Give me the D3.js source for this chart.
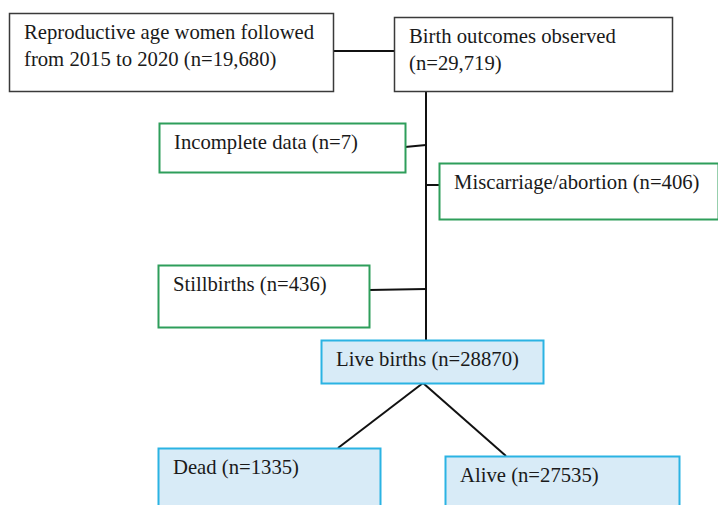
<!DOCTYPE html>
<html>
<head>
<meta charset="utf-8">
<script src="https://cdn.jsdelivr.net/npm/d3@7"></script>
<style>
  body { margin: 0; background: #fff; }
  svg { display: block; }
  .lbl { font-family: "Liberation Serif", Tinos, "Times New Roman", Times, "DejaVu Serif", serif; font-size: 20.7px; }
</style>
</head>
<body>
<div id="flow"></div>
<script>
// flowchart content
const nodeIds = ["women", "births", "incomplete", "miscarriage", "stillbirths", "live", "dead", "alive"];
const nodeLabels = [
    ["Reproductive age women followed", "from 2015 to 2020 (n={n})"],
    ["Birth outcomes observed", "(n={n})"],
    ["Incomplete data (n={n})"],
    ["Miscarriage/abortion (n={n})"],
    ["Stillbirths (n={n})"],
    ["Live births (n={n})"],
    ["Dead (n={n})"],
    ["Alive (n={n})"]
];
const nodeCounts = [19680, 29719, 7, 406, 436, 28870, 1335, 27535];
const commaCounts = [true, true, false, false, false, false, false, false];
const nodeKind = ["plain", "plain", "excluded", "excluded", "excluded", "outcome", "outcome", "outcome"];

// layout: box left/top/width/height in pixels
const layout = {
    women:       [9, 13, 324, 78],
    births:      [394, 17, 278, 74],
    incomplete:  [159, 123, 246, 49],
    miscarriage: [439, 163, 279, 56],
    stillbirths: [158, 265, 211, 62],
    live:        [321, 340, 222, 43],
    dead:        [158, 448, 222, 62],
    alive:       [445, 456, 234, 54]
};

const styles = {
    plain:    {stroke: "#3a3a3a", fill: "#ffffff"},
    excluded: {stroke: "#2e9e5b", fill: "#ffffff"},
    outcome:  {stroke: "#2bb3e3", fill: "#d8ebf7"}
};

const nodes = nodeIds.map((id, i) => ({
    id: id,
    kind: nodeKind[i],
    lines: nodeLabels[i].map(s => s.replace("{n}", commaCounts[i] ? d3.format(",")(nodeCounts[i]) : nodeCounts[i])),
    box: layout[id]
}));
const byId = Object.fromEntries(nodes.map(d => [d.id, d]));

const trunkX = 426;

// connector lines [x1, y1, x2, y2]
const links = [
    [byId.women.box[0] + byId.women.box[2], 51, byId.births.box[0], 51],
    [trunkX, byId.births.box[1] + byId.births.box[3], trunkX, byId.live.box[1]],
    [byId.incomplete.box[0] + byId.incomplete.box[2], 147, trunkX, 145],
    [trunkX, 185, byId.miscarriage.box[0], 185],
    [byId.stillbirths.box[0] + byId.stillbirths.box[2], 290, trunkX, 289],
    [423, byId.live.box[1] + byId.live.box[3], 338, byId.dead.box[1]],
    [423, byId.live.box[1] + byId.live.box[3], 506, byId.alive.box[1]]
];

const svg = d3.select("#flow")
    .append("svg")
    .attr("width", 718)
    .attr("height", 505);

svg.append("g")
    .selectAll("line")
    .data(links)
    .join("line")
    .attr("x1", d => d[0])
    .attr("y1", d => d[1])
    .attr("x2", d => d[2])
    .attr("y2", d => d[3])
    .attr("stroke", "#111")
    .attr("stroke-width", 2);

const g = svg.append("g")
    .selectAll("g")
    .data(nodes)
    .join("g")
    .attr("transform", d => `translate(${d.box[0]},${d.box[1]})`);

g.append("rect")
    .attr("x", 0.5)
    .attr("y", 0.5)
    .attr("width", d => d.box[2])
    .attr("height", d => d.box[3])
    .attr("fill", d => styles[d.kind].fill)
    .attr("stroke", d => styles[d.kind].stroke)
    .attr("stroke-width", d => d.kind == "plain" ? 1.5 : 2);

g.append("text")
    .attr("class", "lbl")
    .attr("fill", "#1a1a1a")
    .selectAll("tspan")
    .data(d => d.lines)
    .join("tspan")
    .attr("x", 15)
    .attr("y", (d, i) => 26 + i * 27)
    .text(d => d);
</script>
</body>
</html>
